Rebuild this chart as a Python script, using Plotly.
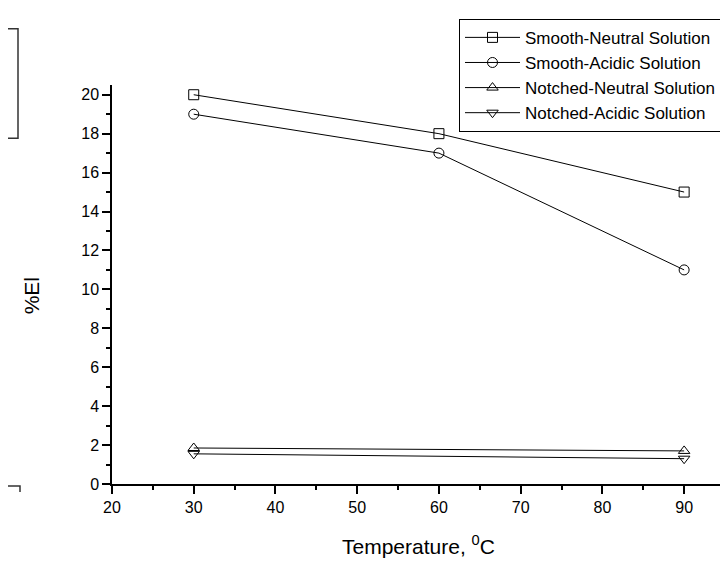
import plotly.graph_objects as go

temps = [30, 60, 90]
temps_notched = [30, 90]
smooth_neutral = [20, 18, 15]
smooth_acidic = [19, 17, 11]
notched_neutral = [1.85, 1.7]
notched_acidic = [1.55, 1.3]
series_names = ["Smooth-Neutral Solution", "Smooth-Acidic Solution",
                "Notched-Neutral Solution", "Notched-Acidic Solution"]
x_ticks = [20, 30, 40, 50, 60, 70, 80, 90]
y_ticks = [0, 2, 4, 6, 8, 10, 12, 14, 16, 18, 20]

FONT = "Liberation Sans, Arial, sans-serif"
W, H = 728, 562
L, R, T, B = 104, 11, 72, 86
PW, PH = W - L - R, H - T - B


def px(x):
    return (x - L) / PW


def py(y):
    return (H - B - y) / PH


fig = go.Figure()
specs = [
    (temps, smooth_neutral, "square-open"),
    (temps, smooth_acidic, "circle-open"),
    (temps_notched, notched_neutral, "triangle-up-open"),
    (temps_notched, notched_acidic, "triangle-down-open"),
]
for (xs, ys, sym), name in zip(specs, series_names):
    fig.add_trace(go.Scatter(
        x=xs, y=ys, name=name, mode="lines+markers",
        line=dict(color="black", width=1),
        marker=dict(symbol=sym, size=10, color="black", line=dict(width=1, color="black")),
    ))

axis_common = dict(
    showgrid=False, zeroline=False, showline=True, linecolor="black", linewidth=1.5,
    ticks="outside", ticklen=8, tickwidth=1.5, tickcolor="black",
    tickfont=dict(family=FONT, size=16, color="black"), mirror=False,
)
fig.update_xaxes(range=[20, 95], tickvals=x_ticks,
                 minor=dict(dtick=5, tick0=20, ticks="outside", ticklen=4, tickwidth=1.5, tickcolor="black"),
                 **axis_common)
fig.update_yaxes(range=[0, 20.5], tickvals=y_ticks,
                 minor=dict(dtick=1, tick0=0, ticks="outside", ticklen=4, tickwidth=1.5, tickcolor="black"),
                 **axis_common)

fig.update_layout(
    width=W, height=H, autosize=False,
    margin=dict(l=L, r=R, t=T, b=B),
    paper_bgcolor="white", plot_bgcolor="white",
    font=dict(family=FONT, color="black"),
    legend=dict(
        x=px(713), y=py(5), xanchor="right", yanchor="top",
        bgcolor="white", bordercolor="black", borderwidth=1,
        font=dict(family=FONT, size=17, color="black"),
        tracegroupgap=0, itemwidth=55,
    ),
    annotations=[
        dict(text="Temperature, <sup>0</sup>C", x=px(410), y=py(553), xref="paper", yref="paper",
             showarrow=False, font=dict(family=FONT, size=21, color="black"),
             xanchor="center", yanchor="bottom"),
        dict(text="%El", x=px(23), y=py(286), xref="paper", yref="paper", textangle=-90,
             showarrow=False, font=dict(family=FONT, size=21, color="black"),
             xanchor="center", yanchor="middle"),
    ],
    shapes=[
        dict(type="rect", xref="paper", yref="paper", x0=px(-5), x1=px(10), y0=py(126), y1=py(15),
             line=dict(color="#333333", width=1.5)),
        dict(type="path", xref="paper", yref="paper",
             path=f"M {px(-2)},{py(478)} L {px(12)},{py(478)} L {px(12)},{py(484)}",
             line=dict(color="#333333", width=1.5)),
    ],
)

fig.write_html("out.html")
